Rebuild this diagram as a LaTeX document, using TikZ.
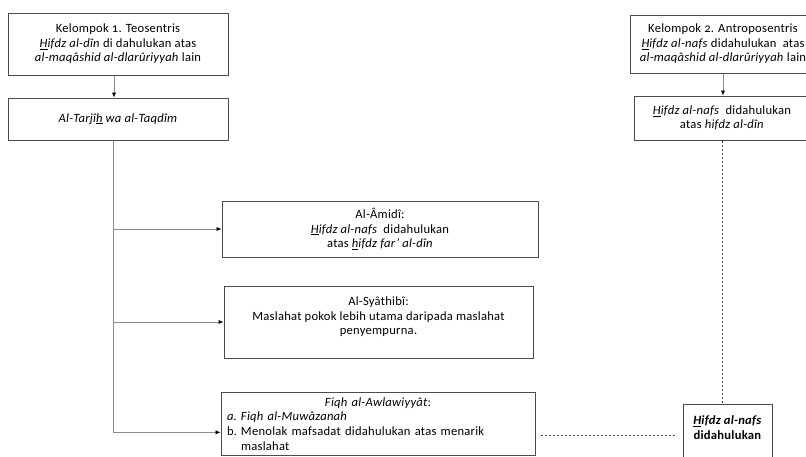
\documentclass[tikz,border=0pt]{standalone}
\usepackage{fontspec}
\setmainfont[Numbers=OldStyle,LetterSpace=2]{Carlito}
\usetikzlibrary{arrows.meta}

\begin{document}
\begin{tikzpicture}[x=1pt,y=-1pt,>={Latex[length=5pt,width=4.5pt,color=black]},
  font=\fontsize{12.6}{14.6}\selectfont,
  box node/.style={draw=black!70,line width=1pt,align=center,inner sep=3pt},
  link/.style={draw=black!45,line width=0.9pt,->},
  dash link/.style={draw=black!70,line width=0.8pt,dash pattern=on 2pt off 2pt}]

\useasboundingbox (0,0) rectangle (806,456);
\clip (0,0) rectangle (806,456);

% kelompok 1 (kiri)
\node[box node,minimum width=220pt,minimum height=62pt] (kel1) at (118,44)
  {Kelompok 1. Teosentris\\
   \textit{\underline{H}ifdz al-dîn} di dahulukan atas\\
   \textit{al-maqâshid al-dlarûriyyah} lain};
\node[box node,minimum width=220pt,minimum height=42pt] (tarjih) at (118,119)
  {\textit{Al-Tarjî\underline{h} wa al-Taqdîm}};

% kelompok 2 (kanan)
\node[box node,minimum width=186pt,minimum height=58pt] (kel2) at (723,44)
  {Kelompok 2. Antroposentris\\
   \textit{\underline{H}ifdz al-nafs} didahulukan\ \ atas\\
   \textit{al-maqâshid al-dlarûriyyah} lain};
\node[box node,minimum width=176pt,minimum height=44pt] (nafs) at (722,118)
  {\textit{\underline{H}ifdz al-nafs}\ \ didahulukan\\
   atas \textit{hifdz al-dîn}};

% cabang
\node[box node,minimum width=316pt,minimum height=56pt] (amidi) at (380,229)
  {Al-Âmidî:\\
   \textit{\underline{H}ifdz al-nafs}\ \ didahulukan\\
   atas \textit{\underline{h}ifdz far' al-dîn}};
\node[box node,minimum width=309pt,minimum height=72pt] (syathibi) at (378.5,322)
  {Al-Syâthibî:\\
   Maslahat pokok lebih utama daripada maslahat\\
   penyempurna.\rule[-12pt]{0pt}{0pt}};
\node[box node,align=left,text width=302pt,inner xsep=6pt,inner ysep=5pt,
  anchor=north] (fiqh) at (378,392)
  {{\centering\textit{Fiqh al-Awlawiyyât}:\par}
   \makebox[14pt][l]{\textit{a.}}\textit{Fiqh al-Muwâzanah}\\
   \makebox[14pt][l]{b.}Menolak mafsadat didahulukan atas menarik\\
   \hspace*{14pt}maslahat};
\node[box node,minimum width=89pt,anchor=north] (hasil) at (727.5,404)
  {\rule{0pt}{17pt}\textbf{\textit{\underline{H}ifdz al-nafs}}\\
   \textbf{didahulukan}\rule[-24pt]{0pt}{0pt}};

\coordinate (trunk) at ([xshift=-5pt]tarjih.south);

\draw[link] ([xshift=-4pt]kel1.south) -- ([xshift=-4pt]tarjih.north);
\draw[link] (kel2.south) -- (kel2.south |- nafs.north);
\draw[link] (trunk) |- ([yshift=3pt]fiqh.west |- hasil.west);
\draw[link] (trunk |- amidi.west) -- (amidi.west);
\draw[link] (trunk |- syathibi.west) -- (syathibi.west);
\draw[dash link] (nafs.south) -- (nafs.south |- hasil.north);
\draw[dash link,shorten <=5pt,shorten >=6pt] (fiqh.east |- hasil.west) -- (hasil.west);
\end{tikzpicture}
\end{document}
